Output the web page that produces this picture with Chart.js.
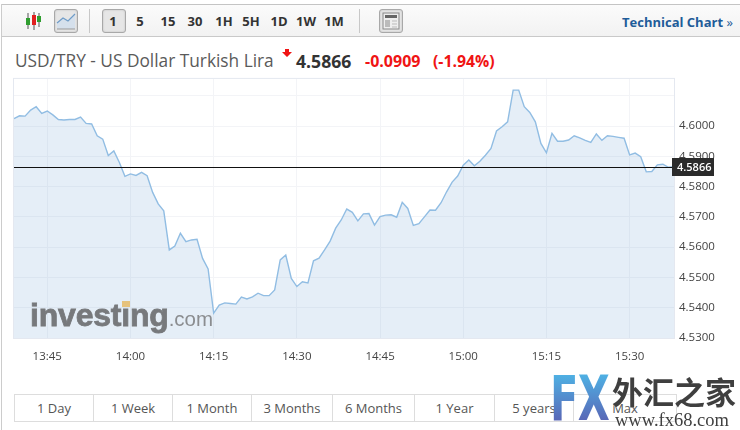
<!DOCTYPE html>
<html>
<head>
<meta charset="utf-8">
<title>USD/TRY</title>
<script src="https://cdn.jsdelivr.net/npm/chart.js@4"></script>
<style>
html, body { margin: 0; padding: 0; background: #fff; }
body { width: 740px; height: 430px; overflow: hidden; position: relative; font-family: "Open Sans", sans-serif; }
.abs { position: absolute; white-space: nowrap; }
#chart { position: absolute; left: 0; top: 67px; }
#pageEdge { left: 1px; top: 4px; width: 1px; height: 426px; background: #ccc; }
#toolbar { left: 2px; top: 4px; width: 738px; height: 31px; background: linear-gradient(#fbfbfb, #f2f2f2); border-top: 1px solid #c4c4c4; border-bottom: 1px solid #c9c9c9; }
.sep { top: 9px; width: 1px; height: 24px; background: #c8c8c8; }
.tool { top: 9px; width: 22px; height: 22px; border: 1px solid #a8a8a8; border-radius: 3px; background: #e6e6e6; box-shadow: inset 0 0 2px #bbb; }
.period { top: 11px; width: 28px; margin-left: -14px; text-align: center; font-size: 13px; line-height: 20px; font-weight: 700; color: #333; }
#techLink { left: 622px; top: 12px; font-size: 13px; line-height: 20px; font-weight: 700; color: #1f5c99; }
#pairName { left: 15px; top: 50px; font-size: 17.3px; line-height: 22px; color: #5a5a5a; }
#lastQuote { left: 296px; top: 49px; font-size: 17.6px; line-height: 24px; font-weight: 700; color: #333; }
#change { left: 365px; top: 50px; font-size: 16px; line-height: 22px; font-weight: 700; color: #f01414; }
#changePct { left: 433px; top: 50px; font-size: 15.8px; line-height: 22px; font-weight: 700; color: #f01414; }
#logo { left: 30px; top: 296px; font-family: "Liberation Sans", sans-serif; font-size: 32px; line-height: 38px; font-weight: 700; color: #77797c; letter-spacing: -0.2px; -webkit-text-stroke: 0.8px #77797c; }
#logo span { font-size: 20.5px; font-weight: 400; color: #8b8d90; letter-spacing: 0; -webkit-text-stroke: 0; }
#logoMark { left: 122px; top: 301px; width: 8px; height: 6px; background: #e6c27c; }
#ranges { left: 14px; top: 394px; display: flex; height: 26px; border: 1px solid #ddd; }
#ranges div { box-sizing: border-box; text-align: center; font-size: 13px; line-height: 26px; color: #555; border-left: 1px solid #ddd; }
#ranges div:first-child { border-left: none; }
#fxMark { left: 550px; top: 368px; font-family: "DejaVu Sans", sans-serif; font-size: 63px; line-height: 62px; font-weight: 700; transform: scaleX(0.66); transform-origin: left top; background: linear-gradient(#4dbbea, #5b58ad); -webkit-background-clip: text; background-clip: text; color: transparent; letter-spacing: -1px; }
#fxName { left: 612px; top: 372px; font-family: "Noto Sans CJK SC", sans-serif; font-size: 31px; line-height: 38px; font-weight: 700; color: #3f3f3f; text-shadow: 0 0 2px #fff; }
#fxUrl { left: 615px; top: 411px; font-family: "Liberation Serif", serif; font-size: 18.5px; line-height: 18px; color: #404040; text-shadow: 0 0 2px #fff; }
</style>
</head>
<body>
<div class="abs" id="pageEdge"></div>
<div class="abs" id="toolbar"></div>

<svg class="abs" style="left:25px;top:12px" width="18" height="18">
  <path d="M3 1V17M9 0V18M14 1V15" stroke="#555" stroke-width="1"/>
  <rect x="1" y="6" width="4" height="7" fill="#2f9e2f"/>
  <rect x="7" y="3" width="4" height="10" fill="#e02020"/>
  <rect x="12" y="4" width="4" height="6" fill="#2f9e2f"/>
</svg>
<div class="abs tool" style="left:54px">
  <svg width="22" height="22">
    <path d="M2 13L8 8L13 11L20 4V19H2Z" fill="#d5e0ec"/>
    <path d="M2 13L8 8L13 11L20 4" fill="none" stroke="#6f9cc8" stroke-width="1.2"/>
    <path d="M2 19H20" stroke="#999"/>
  </svg>
</div>
<div class="abs sep" style="left:89px"></div>
<div class="abs tool" style="left:102px"></div>
<div class="abs sep" style="left:359px"></div>
<div class="abs tool" style="left:379px">
  <svg width="22" height="22">
    <rect x="3" y="3" width="16" height="16" fill="#eee" stroke="#888"/>
    <rect x="5" y="5" width="12" height="3" fill="#666"/>
    <rect x="5" y="10" width="5" height="7" fill="#bbb"/>
    <path d="M12 11H17M12 14H17M12 17H17" stroke="#bbb"/>
  </svg>
</div>
<div class="abs" id="techLink">Technical Chart <span style="font-weight:400">»</span></div>

<div class="abs" id="pairName">USD/TRY - US Dollar Turkish Lira</div>
<svg class="abs" style="left:282px;top:49px" width="10" height="8"><path d="M3 0H7V3H10L5 8L0 3H3Z" fill="#f01414"/></svg>
<div class="abs" id="lastQuote"></div>
<div class="abs" id="change"></div>
<div class="abs" id="changePct"></div>

<canvas id="chart" width="740" height="303"></canvas>

<div class="abs" id="logo">investing<span>.com</span></div>
<div class="abs" id="logoMark"></div>

<div class="abs" id="ranges"></div>

<div class="abs" id="fxMark">FX</div>
<div class="abs" id="fxName">外汇之家</div>
<div class="abs" id="fxUrl">www.fx68.com</div>

<script>
const times = [
    '13:39', '13:40', '13:41', '13:42', '13:43', '13:44', '13:45', '13:46', '13:47', '13:48',
    '13:49', '13:50', '13:51', '13:52', '13:53', '13:54', '13:55', '13:56', '13:57', '13:58',
    '13:59', '14:00', '14:01', '14:02', '14:03', '14:04', '14:05', '14:06', '14:07', '14:08',
    '14:09', '14:10', '14:11', '14:12', '14:13', '14:14', '14:15', '14:16', '14:17', '14:18',
    '14:19', '14:20', '14:21', '14:22', '14:23', '14:24', '14:25', '14:26', '14:27', '14:28',
    '14:29', '14:30', '14:31', '14:32', '14:33', '14:34', '14:35', '14:36', '14:37', '14:38',
    '14:39', '14:40', '14:41', '14:42', '14:43', '14:44', '14:45', '14:46', '14:47', '14:48',
    '14:49', '14:50', '14:51', '14:52', '14:53', '14:54', '14:55', '14:56', '14:57', '14:58',
    '14:59', '15:00', '15:01', '15:02', '15:03', '15:04', '15:05', '15:06', '15:07', '15:08',
    '15:09', '15:10', '15:11', '15:12', '15:13', '15:14', '15:15', '15:16', '15:17', '15:18',
    '15:19', '15:20', '15:21', '15:22', '15:23', '15:24', '15:25', '15:26', '15:27', '15:28',
    '15:29', '15:30', '15:31', '15:32', '15:33', '15:34', '15:35', '15:36', '15:37', '15:38'
];

const prices = [
    4.6025, 4.6034, 4.6033, 4.6053, 4.6064, 4.6042, 4.6050, 4.6037, 4.6022, 4.6020,
    4.6022, 4.6022, 4.6030, 4.6009, 4.6007, 4.5968, 4.5957, 4.5903, 4.5918, 4.5880,
    4.5834, 4.5842, 4.5837, 4.5847, 4.5836, 4.5781, 4.5743, 4.5720, 4.5591, 4.5604,
    4.5646, 4.5618, 4.5624, 4.5626, 4.5563, 4.5528, 4.5382, 4.5409, 4.5416, 4.5414,
    4.5412, 4.5435, 4.5429, 4.5436, 4.5448, 4.5440, 4.5440, 4.5459, 4.5558, 4.5574,
    4.5497, 4.5470, 4.5486, 4.5482, 4.5555, 4.5564, 4.5591, 4.5620, 4.5663, 4.5690,
    4.5726, 4.5715, 4.5687, 4.5710, 4.5711, 4.5673, 4.5701, 4.5706, 4.5707, 4.5699,
    4.5748, 4.5728, 4.5672, 4.5678, 4.5700, 4.5723, 4.5722, 4.5747, 4.5783, 4.5815,
    4.5835, 4.5871, 4.5888, 4.5869, 4.5884, 4.5904, 4.5926, 4.5984, 4.5998, 4.6014,
    4.6119, 4.6119, 4.6064, 4.6045, 4.6014, 4.5943, 4.5912, 4.5976, 4.5950, 4.5950,
    4.5954, 4.5968, 4.5961, 4.5953, 4.5946, 4.5974, 4.5953, 4.5968, 4.5966, 4.5963,
    4.5960, 4.5905, 4.5911, 4.5899, 4.5849, 4.5850, 4.5872, 4.5874, 4.5864, 4.5866
];

const timeTicks = ['13:45', '14:00', '14:15', '14:30', '14:45', '15:00', '15:15', '15:30'];
const priceTicks = [4.53, 4.54, 4.55, 4.56, 4.57, 4.58, 4.59, 4.60, 4.61];
const priceLabelTop = 4.60; // the 4.61 grid line has no label in the widget
const priceMin = 4.53;
const priceMax = 4.6156;

const lastPrice = 4.5866;
const changeValue = '-0.0909';
const changePercent = '(-1.94%)';

const periods = ['1', '5', '15', '30', '1H', '5H', '1D', '1W', '1M'];
const periodCenters = [113, 140, 168, 195, 224, 251, 279, 306, 334];
const ranges = ['1 Day', '1 Week', '1 Month', '3 Months', '6 Months', '1 Year', '5 years', 'Max'];
const rangeWidths = [78, 79, 79, 81, 82, 80, 79, 103];

// Header bits
document.getElementById('lastQuote').textContent = lastPrice.toFixed(4);
document.getElementById('change').textContent = changeValue;
document.getElementById('changePct').textContent = changePercent;

periods.forEach((p, i) => {
    const el = document.createElement('div');
    el.className = 'abs period';
    el.style.left = periodCenters[i] + 'px';
    el.textContent = p;
    document.body.appendChild(el);
});

document.getElementById('ranges').innerHTML = ranges
    .map((r, i) => `<div style="width:${rangeWidths[i]}px">${r}</div>`)
    .join('');

// Plot frame, current price line and its tag
const lastPricePlugin = {
    id: 'lastPrice',
    afterDatasetsDraw(chart) {
        const { ctx, chartArea, scales } = chart;
        const y = Math.round(scales.y.getPixelForValue(lastPrice)) + 0.5;

        ctx.save();
        ctx.strokeStyle = '#e4e8f0';
        ctx.lineWidth = 1;
        ctx.strokeRect(chartArea.left - 0.5, chartArea.top - 0.5, chartArea.width + 1, chartArea.height + 1);

        ctx.strokeStyle = '#111';
        ctx.lineWidth = 1;
        ctx.beginPath();
        ctx.moveTo(chartArea.left, y);
        ctx.lineTo(chartArea.right, y);
        ctx.stroke();
        ctx.restore();
    },
    afterDraw(chart) {
        const { ctx, chartArea, scales } = chart;
        const y = Math.round(scales.y.getPixelForValue(lastPrice));

        ctx.save();
        ctx.fillStyle = '#2b2b2b';
        ctx.fillRect(chartArea.right - 2, y - 9, 42, 18);
        ctx.fillStyle = '#fff';
        ctx.font = '600 11px "Open Sans"';
        ctx.textBaseline = 'middle';
        ctx.fillText(lastPrice.toFixed(4), chartArea.right + 3, y + 0.5);
        ctx.restore();
    }
};

new Chart(document.getElementById('chart').getContext('2d'), {
    type: 'line',
    data: {
        labels: times,
        datasets: [{
            data: prices,
            borderColor: '#91bde3',
            borderWidth: 1.4,
            backgroundColor: 'rgba(125, 170, 215, 0.2)',
            fill: 'start',
            pointRadius: 0,
            tension: 0
        }]
    },
    options: {
        responsive: false,
        animation: false,
        layout: { padding: { left: 14, top: 8, right: 0, bottom: 0 } },
        plugins: { legend: { display: false }, tooltip: { enabled: false } },
        scales: {
            x: {
                offset: false,
                afterBuildTicks: (scale) => {
                    scale.ticks = scale.ticks.filter(t => timeTicks.includes(times[t.value]));
                },
                afterFit: (scale) => { scale.height = 32; },
                grid: { color: '#f3f4f7', drawTicks: false },
                border: { display: false },
                ticks: {
                    autoSkip: false,
                    maxRotation: 0,
                    padding: 12,
                    color: '#444',
                    font: { family: '"Open Sans"', size: 11.5 }
                }
            },
            y: {
                position: 'right',
                min: priceMin,
                max: priceMax,
                afterBuildTicks: (scale) => {
                    scale.ticks = priceTicks.map(v => ({ value: v }));
                },
                afterFit: (scale) => { scale.width = 66; },
                grid: { color: '#f3f4f7', drawTicks: false },
                border: { display: false },
                ticks: {
                    padding: 5,
                    color: '#444',
                    font: { family: '"Open Sans"', size: 11.5 },
                    callback: (v) => (v > priceLabelTop ? '' : v.toFixed(4))
                }
            }
        }
    },
    plugins: [lastPricePlugin]
});
</script>
</body>
</html>
